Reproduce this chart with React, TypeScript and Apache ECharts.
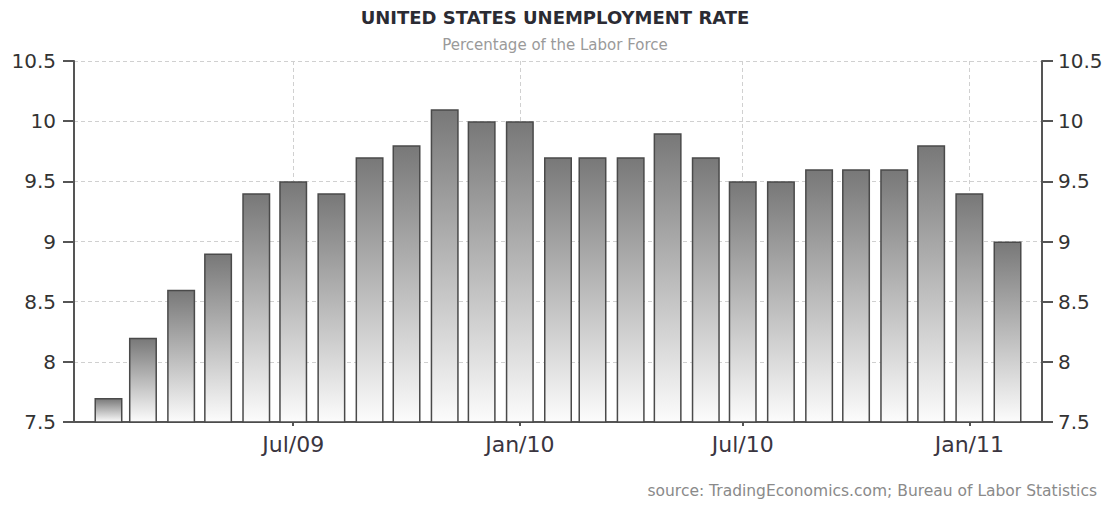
import React, { useEffect, useRef } from "react";
import * as echarts from "echarts";

// Month of each bar (bar sits on the first day of the month, as in the source chart)
const months = [
  "2009-02-01", "2009-03-01", "2009-04-01", "2009-05-01", "2009-06-01",
  "2009-07-01", "2009-08-01", "2009-09-01", "2009-10-01", "2009-11-01",
  "2009-12-01", "2010-01-01", "2010-02-01", "2010-03-01", "2010-04-01",
  "2010-05-01", "2010-06-01", "2010-07-01", "2010-08-01", "2010-09-01",
  "2010-10-01", "2010-11-01", "2010-12-01", "2011-01-01", "2011-02-01",
];

// Unemployment rate (%)
const rates = [
  7.7, 8.2, 8.6, 8.9, 9.4,
  9.5, 9.4, 9.7, 9.8, 10.1,
  10.0, 10.0, 9.7, 9.7, 9.7,
  9.9, 9.7, 9.5, 9.5, 9.6,
  9.6, 9.6, 9.8, 9.4, 9.0,
];

// X axis ticks
const xTicks = ["2009-07-01", "2010-01-01", "2010-07-01", "2011-01-01"];
const xTickLabels = ["Jul/09", "Jan/10", "Jul/10", "Jan/11"];
const xRange = ["2009-01-04", "2011-03-01"];

// Y axis range
const yMin = 7.5;
const yMax = 10.5;
const yStep = 0.5;

const TITLE = "UNITED STATES UNEMPLOYMENT RATE";
const SUBTITLE = "Percentage of the Labor Force";
const SOURCE = "source: TradingEconomics.com; Bureau of Labor Statistics";

const ts = (s: string) => Date.parse(s + "T00:00:00Z");

export default function App() {
  const ref = useRef<HTMLDivElement>(null);

  useEffect(() => {
    if (!ref.current) return;
    const chart = echarts.init(ref.current, undefined, { renderer: "svg" });
    const tickValues = xTicks.map(ts);
    const font = "DejaVu Sans, Verdana, sans-serif";
    const axisColor = "#555";
    const gridColor = "#d0d0d0";

    const yAxisCommon = {
      type: "value" as const,
      min: yMin,
      max: yMax,
      interval: yStep,
      axisLine: { show: true, lineStyle: { color: axisColor, width: 2 } },
      axisTick: { show: true, length: 11, lineStyle: { color: axisColor, width: 2 } },
    };

    chart.setOption({
      animation: false,
      backgroundColor: "#fff",
      textStyle: { fontFamily: font },
      title: [
        {
          text: TITLE,
          left: "center",
          top: 3,
          textStyle: { fontFamily: font, fontSize: 18, fontWeight: "bold", color: "#2b2b33" },
        },
        {
          text: SUBTITLE,
          left: "center",
          top: 32,
          textStyle: { fontFamily: font, fontSize: 15, fontWeight: "normal", color: "#9a9a9a" },
        },
        {
          text: SOURCE,
          right: 8,
          top: 478,
          textStyle: { fontFamily: font, fontSize: 15.5, fontWeight: "normal", color: "#8a8a8a" },
        },
      ],
      grid: { left: 74, right: 68, top: 61, bottom: 84, containLabel: false },
      xAxis: {
        type: "value",
        min: ts(xRange[0]),
        max: ts(xRange[1]),
        axisLine: { show: true, onZero: false, lineStyle: { color: axisColor, width: 2 } },
        axisTick: {
          show: true,
          length: 4,
          customValues: tickValues,
          lineStyle: { color: axisColor, width: 2 },
        },
        axisLabel: {
          show: true,
          customValues: tickValues,
          margin: 11,
          fontSize: 22,
          fontFamily: font,
          color: "#3a3540",
          formatter: (v: number) => {
            const i = tickValues.indexOf(v);
            return i >= 0 ? xTickLabels[i] : "";
          },
        },
        splitLine: { show: false },
      },
      yAxis: [
        {
          ...yAxisCommon,
          position: "left",
          axisLabel: { margin: 18, fontSize: 20, fontFamily: font, color: "#333" },
          splitLine: { show: true, lineStyle: { color: gridColor, type: [4, 3], width: 1 } },
        },
        {
          ...yAxisCommon,
          position: "right",
          axisLabel: { margin: 16, fontSize: 20, fontFamily: font, color: "#333" },
          splitLine: { show: false },
        },
      ],
      series: [
        {
          type: "bar",
          yAxisIndex: 0,
          barWidth: 28,
          data: months.map((m, i) => [ts(m), rates[i]]),
          itemStyle: {
            color: new echarts.graphic.LinearGradient(0, 0, 0, 1, [
              { offset: 0, color: "#787878" },
              { offset: 1, color: "#fcfcfc" },
            ]),
            borderColor: "#4a4a4a",
            borderWidth: 1.5,
          },
          markLine: {
            silent: true,
            symbol: "none",
            z: 0,
            label: { show: false },
            lineStyle: { color: gridColor, type: [4, 3], width: 1 },
            data: tickValues.map((v) => ({ xAxis: v })),
          },
        },
      ],
    });

    return () => chart.dispose();
  }, []);

  return (
    <div
      ref={ref}
      style={{ position: "absolute", left: 0, top: 0, width: 1110, height: 506 }}
    />
  );
}
